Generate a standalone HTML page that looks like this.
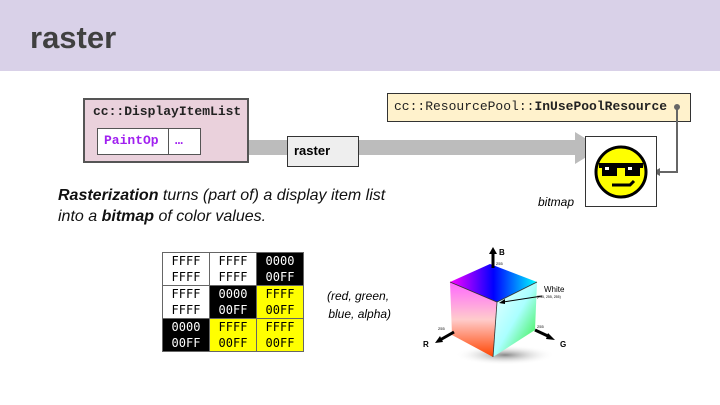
<!DOCTYPE html>
<html><head><style>
body{margin:0;width:720px;height:405px;position:relative;background:#fff;font-family:"Liberation Sans",sans-serif;overflow:hidden}
.a{position:absolute}
.mono{font-family:"Liberation Mono","DejaVu Sans Mono",monospace}
table{border-collapse:collapse}
td{width:46px;height:17px;border:1px solid #666;font-family:"DejaVu Sans Mono",monospace;font-size:12px;text-align:center;line-height:16px;padding:0}
.w{background:#fff;color:#000}.b{background:#000;color:#fff}.y{background:#ff0;color:#000}
</style></head><body>
<div class="a" style="left:0;top:0;width:720px;height:71px;background:#d9d1e8"></div>
<div class="a" style="left:30px;top:20px;font-size:31px;font-weight:bold;color:#404040">raster</div>

<div class="a" style="left:248px;top:140px;width:337px;height:15px;background:#bcbcbc"></div>
<svg class="a" style="left:575px;top:132px" width="30" height="32"><polygon points="0,0 26,16 0,32" fill="#bcbcbc"/></svg>

<div class="a" style="left:83px;top:98px;width:162px;height:61px;background:#ead1dc;border:2px solid #555"></div>
<div class="a mono" style="left:93px;top:104px;font-size:13px;font-weight:bold;color:#222">cc::DisplayItemList</div>
<div class="a" style="left:97px;top:128px;width:102px;height:25px;background:#fff;border:1px solid #555"></div>
<div class="a" style="left:168px;top:128px;width:1px;height:27px;background:#555"></div>
<div class="a mono" style="left:104px;top:133px;font-size:13px;font-weight:bold;color:#a020f0">PaintOp</div>
<div class="a mono" style="left:175px;top:133px;font-size:13px;font-weight:bold;color:#a020f0">…</div>

<div class="a" style="left:287px;top:136px;width:70px;height:29px;background:#eee;border:1px solid #333"></div>
<div class="a" style="left:294px;top:143px;font-size:13px;font-weight:bold">raster</div>

<div class="a" style="left:387px;top:93px;width:302px;height:27px;background:#fff2cc;border:1px solid #333"></div>
<div class="a mono" style="left:394px;top:99px;font-size:13px;color:#222">cc::ResourcePool::<b>InUsePoolResource</b></div>
<svg class="a" style="left:650px;top:100px" width="40" height="80"><circle cx="27" cy="7" r="3" fill="#666"/><polyline points="27,7 27,72 8,72" fill="none" stroke="#666" stroke-width="2"/><polygon points="3,72 10,68 10,76" fill="#666"/></svg>

<div class="a" style="left:585px;top:136px;width:70px;height:69px;background:#fff;border:1px solid #333"></div>
<svg class="a" style="left:592px;top:143px" width="58" height="58">
<circle cx="29" cy="29" r="25" fill="#ff0" stroke="#000" stroke-width="3"/>
<rect x="7" y="20" width="44" height="5" fill="#000"/>
<rect x="10" y="22" width="15" height="11" fill="#000"/><rect x="33" y="22" width="15" height="11" fill="#000"/>
<rect x="13" y="24" width="4" height="3" fill="#fff"/><rect x="36" y="24" width="4" height="3" fill="#fff"/>
<path d="M20 42 L38 42 L42 38" stroke="#000" stroke-width="3" fill="none"/>
</svg>
<div class="a" style="left:538px;top:195px;font-size:12px;font-style:italic">bitmap</div>

<div class="a" style="left:58px;top:185px;font-size:16px;font-style:italic;line-height:21px;color:#111"><b>Rasterization</b> turns (part of) a display item list<br>into a <b>bitmap</b> of color values.</div>

<table class="a" style="left:162px;top:252px">
<tr><td class="w">FFFF<br>FFFF</td><td class="w">FFFF<br>FFFF</td><td class="b">0000<br>00FF</td></tr>
<tr><td class="w">FFFF<br>FFFF</td><td class="b">0000<br>00FF</td><td class="y">FFFF<br>00FF</td></tr>
<tr><td class="b">0000<br>00FF</td><td class="y">FFFF<br>00FF</td><td class="y">FFFF<br>00FF</td></tr>
</table>
<div class="a" style="left:325px;top:287px;font-size:12px;font-style:italic;line-height:18px;text-align:center">(red, green,<br>&nbsp;blue, alpha)</div>

<svg class="a" style="left:410px;top:240px" width="180" height="125">
<defs>
<linearGradient id="t" x1="0" y1="0" x2="1" y2="0"><stop offset="0" stop-color="#f0f"/><stop offset=".5" stop-color="#00f"/><stop offset="1" stop-color="#0ff"/></linearGradient>
<linearGradient id="l" x1="0" y1="0" x2="0" y2="1"><stop offset="0" stop-color="#f6f"/><stop offset=".5" stop-color="#fcc"/><stop offset="1" stop-color="#f40"/></linearGradient>
<linearGradient id="r" x1="0" y1="0" x2="1" y2="1"><stop offset="0" stop-color="#eff"/><stop offset=".5" stop-color="#aff"/><stop offset="1" stop-color="#2e2"/></linearGradient>
<radialGradient id="s"><stop offset="0" stop-color="#888"/><stop offset="1" stop-color="#fff" stop-opacity="0"/></radialGradient>
</defs>
<ellipse cx="95" cy="115" rx="50" ry="10" fill="url(#s)"/>
<polygon points="40,42 80,24 127,42 87,62" fill="url(#t)"/>
<polygon points="40,42 87,62 83,117 42,95" fill="url(#l)"/>
<polygon points="87,62 127,42 125,90 83,117" fill="url(#r)"/>
<polyline points="40,42 87,62 127,42" fill="none" stroke="#333" stroke-width=".8"/>
<line x1="87" y1="62" x2="83" y2="117" stroke="#333" stroke-width=".8"/>
<line x1="83" y1="28" x2="83" y2="13" stroke="#000" stroke-width="3"/><polygon points="79,14 83,7 87,14"/>
<text x="89" y="15" font-size="8" font-weight="bold">B</text><text x="86" y="25" font-size="4">255</text>
<line x1="44" y1="92" x2="30" y2="100" stroke="#000" stroke-width="3"/><polygon points="25,103 30,96 33,102"/>
<text x="13" y="107" font-size="8" font-weight="bold">R</text><text x="28" y="90" font-size="4">255</text>
<line x1="125" y1="90" x2="140" y2="97" stroke="#000" stroke-width="3"/><polygon points="145,100 138,93 136,99"/>
<text x="150" y="107" font-size="8" font-weight="bold">G</text><text x="127" y="88" font-size="4">255</text>
<text x="134" y="52" font-size="8">White</text><text x="127" y="58" font-size="3.5">(255, 255, 255)</text>
<line x1="132" y1="56" x2="93" y2="62" stroke="#000" stroke-width="1"/><polygon points="89,63 95,59 95,64"/>
</svg>
</body></html>
